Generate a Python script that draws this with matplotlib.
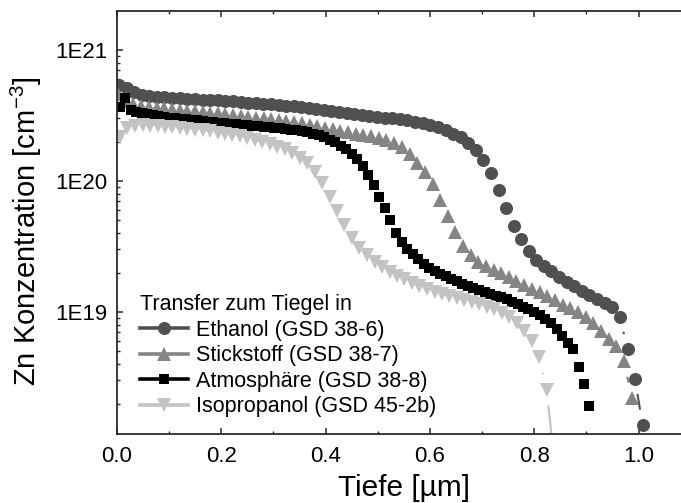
import math
import numpy as np
import matplotlib
matplotlib.use("Agg")
import matplotlib.pyplot as plt
from matplotlib.lines import Line2D
from matplotlib.collections import LineCollection
from matplotlib.ticker import LogLocator, MultipleLocator, FuncFormatter, NullFormatter

plt.rcParams['font.family'] = ['Liberation Sans', 'DejaVu Sans']
plt.rcParams['mathtext.fontset'] = 'custom'
plt.rcParams['mathtext.rm'] = 'Liberation Sans'
plt.rcParams['mathtext.default'] = 'regular'

# ---- depth profiles (depth in µm, Zn concentration in cm^-3) ----
ethanol_x = [0.004, 0.019, 0.033, 0.048, 0.062, 0.077, 0.091, 0.106, 0.120, 0.135,
             0.150, 0.164, 0.179, 0.193, 0.208, 0.222, 0.237, 0.251, 0.266, 0.280,
             0.295, 0.310, 0.324, 0.339, 0.353, 0.368, 0.382, 0.397, 0.411, 0.426,
             0.441, 0.455, 0.470, 0.484, 0.499, 0.513, 0.528, 0.542, 0.557, 0.571,
             0.586, 0.601, 0.615, 0.630, 0.644, 0.659, 0.673, 0.688, 0.702, 0.717,
             0.732, 0.746, 0.761, 0.775, 0.790, 0.804, 0.819, 0.833, 0.848, 0.862,
             0.877, 0.892, 0.906, 0.921, 0.935, 0.950, 0.964, 0.979, 0.993, 1.008]
ethanol_y = [5.4e20, 5.1e20, 4.75e20, 4.5e20, 4.45e20, 4.4e20, 4.35e20, 4.3e20, 4.28e20, 4.25e20,
             4.2e20, 4.18e20, 4.15e20, 4.12e20, 4.08e20, 4.05e20, 4.0e20, 3.97e20, 3.93e20, 3.9e20,
             3.85e20, 3.8e20, 3.76e20, 3.72e20, 3.68e20, 3.62e20, 3.56e20, 3.5e20, 3.44e20, 3.38e20,
             3.33e20, 3.27e20, 3.2e20, 3.15e20, 3.1e20, 3.05e20, 3.0e20, 2.95e20, 2.9e20, 2.82e20,
             2.75e20, 2.67e20, 2.58e20, 2.45e20, 2.3e20, 2.15e20, 1.95e20, 1.72e20, 1.45e20, 1.15e20,
             8.5e19, 6.2e19, 4.5e19, 3.6e19, 2.9e19, 2.5e19, 2.25e19, 2.05e19, 1.85e19, 1.7e19,
             1.58e19, 1.45e19, 1.35e19, 1.25e19, 1.18e19, 1.1e19, 9.2e18, 5.2e18, 3.1e18, 1.37e18]

stickstoff_x = [0.002, 0.017, 0.031, 0.046, 0.061, 0.076, 0.090, 0.105, 0.120, 0.134,
                0.149, 0.164, 0.178, 0.193, 0.208, 0.222, 0.237, 0.252, 0.267, 0.281,
                0.296, 0.311, 0.325, 0.340, 0.355, 0.370, 0.384, 0.399, 0.414, 0.428,
                0.443, 0.458, 0.472, 0.487, 0.502, 0.516, 0.531, 0.546, 0.561, 0.575,
                0.590, 0.605, 0.619, 0.634, 0.649, 0.663, 0.678, 0.693, 0.708, 0.722,
                0.737, 0.752, 0.766, 0.781, 0.796, 0.811, 0.825, 0.840, 0.855, 0.869,
                0.884, 0.899, 0.913, 0.928, 0.943, 0.957, 0.972, 0.987]
stickstoff_y = [4.6e20, 4.1e20, 3.85e20, 3.75e20, 3.68e20, 3.62e20, 3.58e20, 3.54e20, 3.5e20, 3.45e20,
                3.4e20, 3.36e20, 3.32e20, 3.28e20, 3.24e20, 3.2e20, 3.15e20, 3.1e20, 3.05e20, 3.0e20,
                2.95e20, 2.9e20, 2.85e20, 2.8e20, 2.75e20, 2.68e20, 2.62e20, 2.55e20, 2.48e20, 2.42e20,
                2.36e20, 2.3e20, 2.25e20, 2.2e20, 2.14e20, 2.06e20, 1.96e20, 1.82e20, 1.6e20, 1.38e20,
                1.18e20, 9.5e19, 7.2e19, 5.4e19, 4.1e19, 3.2e19, 2.7e19, 2.4e19, 2.25e19, 2.1e19,
                1.97e19, 1.85e19, 1.72e19, 1.6e19, 1.5e19, 1.42e19, 1.32e19, 1.23e19, 1.14e19, 1.07e19,
                1.0e19, 9.2e18, 8.3e18, 7.2e18, 6.2e18, 5.5e18, 4.2e18, 2.2e18]

atmosphaere_x = [0.005, 0.016, 0.026, 0.037, 0.047, 0.058, 0.069, 0.079, 0.090, 0.100,
                 0.111, 0.122, 0.132, 0.143, 0.153, 0.164, 0.175, 0.185, 0.196, 0.206,
                 0.217, 0.228, 0.238, 0.249, 0.259, 0.270, 0.281, 0.291, 0.302, 0.312,
                 0.323, 0.334, 0.344, 0.355, 0.365, 0.376, 0.387, 0.397, 0.408, 0.418,
                 0.429, 0.440, 0.450, 0.461, 0.471, 0.482, 0.493, 0.503, 0.514, 0.524,
                 0.535, 0.546, 0.556, 0.567, 0.577, 0.588, 0.599, 0.609, 0.620, 0.630,
                 0.641, 0.652, 0.662, 0.673, 0.683, 0.694, 0.705, 0.715, 0.726, 0.736,
                 0.747, 0.758, 0.768, 0.779, 0.789, 0.800, 0.811, 0.821, 0.832, 0.843,
                 0.853, 0.864, 0.874, 0.885, 0.895, 0.906]
atmosphaere_y = [3.65e20, 4.3e20, 3.5e20, 3.35e20, 3.28e20, 3.22e20, 3.17e20, 3.13e20, 3.09e20, 3.05e20,
                 3.02e20, 2.99e20, 2.96e20, 2.93e20, 2.9e20, 2.87e20, 2.84e20, 2.81e20, 2.78e20, 2.75e20,
                 2.73e20, 2.71e20, 2.68e20, 2.66e20, 2.63e20, 2.61e20, 2.59e20, 2.57e20, 2.54e20, 2.52e20,
                 2.49e20, 2.46e20, 2.43e20, 2.39e20, 2.35e20, 2.3e20, 2.24e20, 2.16e20, 2.07e20, 1.97e20,
                 1.86e20, 1.74e20, 1.6e20, 1.46e20, 1.3e20, 1.12e20, 9.3e19, 7.6e19, 6.2e19, 5.0e19,
                 4.0e19, 3.4e19, 3.05e19, 2.75e19, 2.52e19, 2.33e19, 2.17e19, 2.06e19, 1.96e19, 1.87e19,
                 1.79e19, 1.71e19, 1.64e19, 1.58e19, 1.52e19, 1.46e19, 1.41e19, 1.37e19, 1.33e19, 1.29e19,
                 1.25e19, 1.2e19, 1.15e19, 1.1e19, 1.05e19, 1.0e19, 9.5e18, 8.9e18, 8.2e18, 7.4e18,
                 6.6e18, 5.8e18, 5.2e18, 3.8e18, 2.8e18, 1.9e18]

isopropanol_x = [0.006, 0.020, 0.035, 0.049, 0.063, 0.078, 0.092, 0.106, 0.121, 0.135,
                 0.150, 0.164, 0.178, 0.193, 0.207, 0.221, 0.236, 0.250, 0.264, 0.279,
                 0.293, 0.307, 0.322, 0.336, 0.350, 0.365, 0.379, 0.393, 0.408, 0.422,
                 0.436, 0.451, 0.465, 0.480, 0.494, 0.508, 0.523, 0.537, 0.551, 0.566,
                 0.580, 0.594, 0.609, 0.623, 0.637, 0.652, 0.666, 0.680, 0.695, 0.709,
                 0.723, 0.738, 0.752, 0.767, 0.781, 0.795, 0.810, 0.824, 0.845]
isopropanol_y = [2.15e20, 2.55e20, 2.65e20, 2.66e20, 2.64e20, 2.62e20, 2.6e20, 2.57e20, 2.54e20, 2.51e20,
                 2.47e20, 2.43e20, 2.39e20, 2.34e20, 2.29e20, 2.24e20, 2.19e20, 2.13e20, 2.06e20, 1.99e20,
                 1.91e20, 1.83e20, 1.74e20, 1.63e20, 1.51e20, 1.36e20, 1.17e20, 9.6e19, 7.6e19, 5.9e19,
                 4.6e19, 3.7e19, 3.1e19, 2.7e19, 2.42e19, 2.2e19, 2.02e19, 1.88e19, 1.77e19, 1.67e19,
                 1.58e19, 1.5e19, 1.43e19, 1.37e19, 1.32e19, 1.27e19, 1.23e19, 1.19e19, 1.15e19, 1.1e19,
                 1.05e19, 9.9e18, 9.2e18, 8.3e18, 7.2e18, 6.0e18, 4.5e18, 2.55e18, 4.0e17]

labels = ["Ethanol (GSD 38-6)", "Stickstoff (GSD 38-7)",
          "Atmosphäre (GSD 38-8)", "Isopropanol (GSD 45-2b)"]
legend_title = "Transfer zum Tiegel in"

W, H = 681, 503
DPI = 100
fig = plt.figure(figsize=(W / DPI, H / DPI), dpi=DPI)
# axes frame: x from 0 to 1.1 µm, right part runs past the canvas edge
ax = fig.add_axes([117 / W, 1 - 434 / H, 1.1 * 521.5 / W, 423 / H])
ax.set_yscale("log")
ax.set_xlim(0, 1.1)
ax.set_ylim(1.17e18, 1.985e21)

series = [
    (ethanol_x, ethanol_y, "#505050", "o", 9.4),
    (stickstoff_x, stickstoff_y, "#858585", "^", 9.8),
    (atmosphaere_x, atmosphaere_y, "#000000", "s", 7.4),
    (isopropanol_x, isopropanol_y, "#c3c3c3", "v", 9.8),
]


def gapped_segments(xs, ys, trim_px):
    """Connecting segments that stop short of each symbol (line + symbol with gap)."""
    pts = ax.transData.transform(np.column_stack([xs, ys]))
    inv = ax.transData.inverted()
    segs = []
    for (x0, y0), (x1, y1) in zip(pts[:-1], pts[1:]):
        d = math.hypot(x1 - x0, y1 - y0)
        if d <= 2 * trim_px:
            continue
        ux, uy = (x1 - x0) / d, (y1 - y0) / d
        a = (x0 + ux * trim_px, y0 + uy * trim_px)
        b = (x1 - ux * trim_px, y1 - uy * trim_px)
        segs.append(inv.transform([a, b]))
    return segs


handles = []
for (xs, ys, col, mk, ms), lab in zip(series, labels):
    trim = ms * DPI / 72 / 2 + 9
    ax.add_collection(LineCollection(gapped_segments(xs, ys, trim),
                                     colors=col, linewidths=1.5))
    ax.plot(xs, ys, ls="none", marker=mk, ms=ms, mfc=col, mec=col, mew=0)
    handles.append(Line2D([], [], color=col, lw=2.6, marker=mk, ms=ms,
                          mfc=col, mec=col, mew=0, label=lab))

ax.xaxis.set_major_locator(MultipleLocator(0.2))
ax.xaxis.set_minor_locator(MultipleLocator(0.1))
ax.xaxis.set_major_formatter(FuncFormatter(lambda v, p: f"{v:.1f}"))
ax.yaxis.set_major_locator(LogLocator(base=10, numticks=10))
ax.yaxis.set_minor_locator(LogLocator(base=10, subs=range(2, 10), numticks=20))
ax.yaxis.set_major_formatter(FuncFormatter(lambda v, p: "1E%d" % round(math.log10(v))))
ax.yaxis.set_minor_formatter(NullFormatter())

spine_col = "#2a2a2a"
for s in ax.spines.values():
    s.set_color(spine_col)
    s.set_linewidth(1.3)
ax.spines["right"].set_visible(False)

ax.tick_params(which="both", direction="in", top=True, right=False,
               color=spine_col, labelsize=16)
ax.tick_params(which="major", length=4.5, width=1.1)
ax.tick_params(which="minor", length=2.4, width=1.0)
ax.tick_params(axis="x", pad=9)
ax.tick_params(axis="y", pad=7)

ax.set_xlabel("Tiefe [µm]", fontsize=21.5, labelpad=5)
ax.set_ylabel(r"Zn Konzentration [cm$^{-3}$]", fontsize=21, labelpad=8)
ax.yaxis.label.set_y(0.478)

leg = ax.legend(handles=handles, loc="upper left",
                bbox_to_anchor=(140 / W, 1 - 294 / H),
                bbox_transform=fig.transFigure, frameon=False,
                title=legend_title, title_fontsize=15.5, fontsize=15.5,
                numpoints=1, handlelength=2.25, handletextpad=0.35,
                labelspacing=0.21, borderpad=0, borderaxespad=0,
                alignment="left")

fig.savefig("out.png", dpi=DPI)
